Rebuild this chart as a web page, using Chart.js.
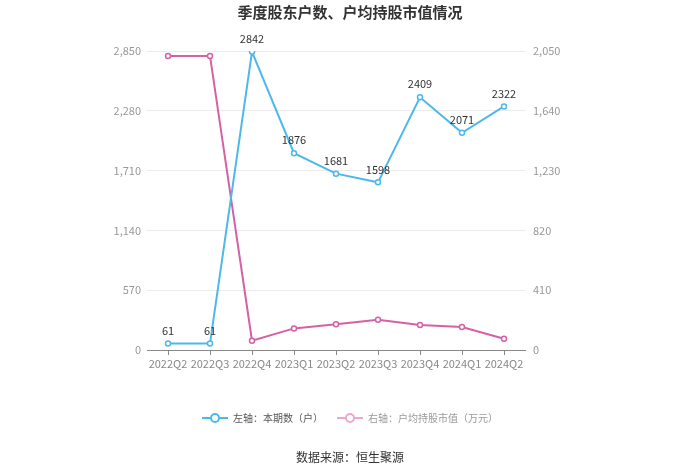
<!DOCTYPE html>
<html><head><meta charset="utf-8">
<script src="https://cdn.jsdelivr.net/npm/chart.js@4"></script>
<style>html,body{margin:0;padding:0;background:#fff;}#wrap{width:700px;height:474px;position:relative;}</style>
</head><body><div id="wrap"><canvas id="c" width="700" height="474"></canvas></div>
<script>
const categories = ['2022Q2','2022Q3','2022Q4','2023Q1','2023Q2','2023Q3','2023Q4','2024Q1','2024Q2'];
const holders = [61, 61, 2842, 1876, 1681, 1598, 2409, 2071, 2322];
const avgValue = [2016, 2016, 64, 148, 176, 207, 171, 157, 77];
const leftTicks = [0, 570, 1140, 1710, 2280, 2850];
const rightTicks = [0, 410, 820, 1230, 1640, 2050];

const BLUE = '#4db8ea', PINK = '#d461a6', PINK_L = '#eaa8cf';
const FONT = "'Noto Sans CJK SC', 'Noto Sans', sans-serif";

function icon(color){
  const c = document.createElement('canvas'); c.width = 26; c.height = 12;
  const g = c.getContext('2d');
  g.strokeStyle = color; g.lineWidth = 2;
  g.beginPath(); g.moveTo(0,6); g.lineTo(26,6); g.stroke();
  g.fillStyle = '#fff'; g.beginPath(); g.arc(13,6,4,0,Math.PI*2); g.fill(); g.stroke();
  return c;
}

const labelPlugin = {
  id:'vals',
  afterDatasetsDraw(chart){
    const ctx = chart.ctx, meta = chart.getDatasetMeta(0);
    ctx.save(); ctx.font = '11px ' + FONT; ctx.fillStyle = '#333';
    ctx.textAlign = 'center'; ctx.textBaseline = 'middle';
    meta.data.forEach((p,i)=>{ ctx.fillText(String(holders[i]), p.x, p.y - 13); });
    ctx.fillStyle = '#333'; ctx.font = '12px ' + FONT;
    ctx.fillText('数据来源：恒生聚源', 350, 457);
    ctx.restore();
  }
};

new Chart(document.getElementById('c'), {
  type:'line',
  data:{ labels: categories, datasets:[
    {label:'左轴：本期数（户）', data: holders, yAxisID:'y', borderColor:BLUE, backgroundColor:'#fff', borderWidth:2, pointRadius:2.5, pointBorderWidth:1.5, pointBackgroundColor:'#fff', pointBorderColor:BLUE, tension:0},
    {label:'右轴：户均持股市值（万元）', data: avgValue, yAxisID:'y1', borderColor:PINK, backgroundColor:'#fff', borderWidth:2, pointRadius:2.5, pointBorderWidth:1.5, pointBackgroundColor:'#fff', pointBorderColor:PINK, tension:0}
  ]},
  options:{
    responsive:false, animation:false,
    layout:{padding:{left:0,right:0,top:0,bottom:41}},
    plugins:{
      title:{display:true, text:'季度股东户数、户均持股市值情况', color:'#333', font:{family:FONT, size:15, weight:'bold'}, padding:{top:3, bottom:30}},
      legend:{position:'bottom', labels:{usePointStyle:true, pointStyleWidth:26, font:{family:FONT, size:10}, padding:14,
        generateLabels(chart){
          return [
            {text:'左轴：本期数（户）', pointStyle:icon(BLUE), fontColor:'#555', datasetIndex:0, hidden:false, strokeStyle:BLUE, fillStyle:'#fff'},
            {text:'右轴：户均持股市值（万元）', pointStyle:icon(PINK_L), fontColor:'#999', datasetIndex:1, hidden:false, strokeStyle:PINK_L, fillStyle:'#fff'}
          ];
        }}},
      tooltip:{enabled:false}
    },
    scales:{
      x:{offset:true, grid:{display:true, drawOnChartArea:false, drawTicks:true, tickLength:5, offset:false, color:'#888'},
        border:{display:true, color:'#888'},
        ticks:{color:'#888', font:{family:FONT, size:11}, padding:2, maxRotation:0, autoSkip:false},
        afterFit(s){ s.height = 49; }},
      y:{position:'left', min:0, max:2850, afterBuildTicks(s){ s.ticks = leftTicks.map(v=>({value:v})); },
        grid:{color:'#ebebeb', drawTicks:false}, border:{display:false},
        ticks:{color:'#999', font:{family:FONT, size:11}, padding:6},
        afterFit(s){ s.width = 147; }},
      y1:{position:'right', min:0, max:2050, afterBuildTicks(s){ s.ticks = rightTicks.map(v=>({value:v})); },
        grid:{display:false, drawTicks:false}, border:{display:false},
        ticks:{color:'#999', font:{family:FONT, size:11}, padding:8},
        afterFit(s){ s.width = 175; }}
    }
  },
  plugins:[labelPlugin]
});
</script></body></html>
